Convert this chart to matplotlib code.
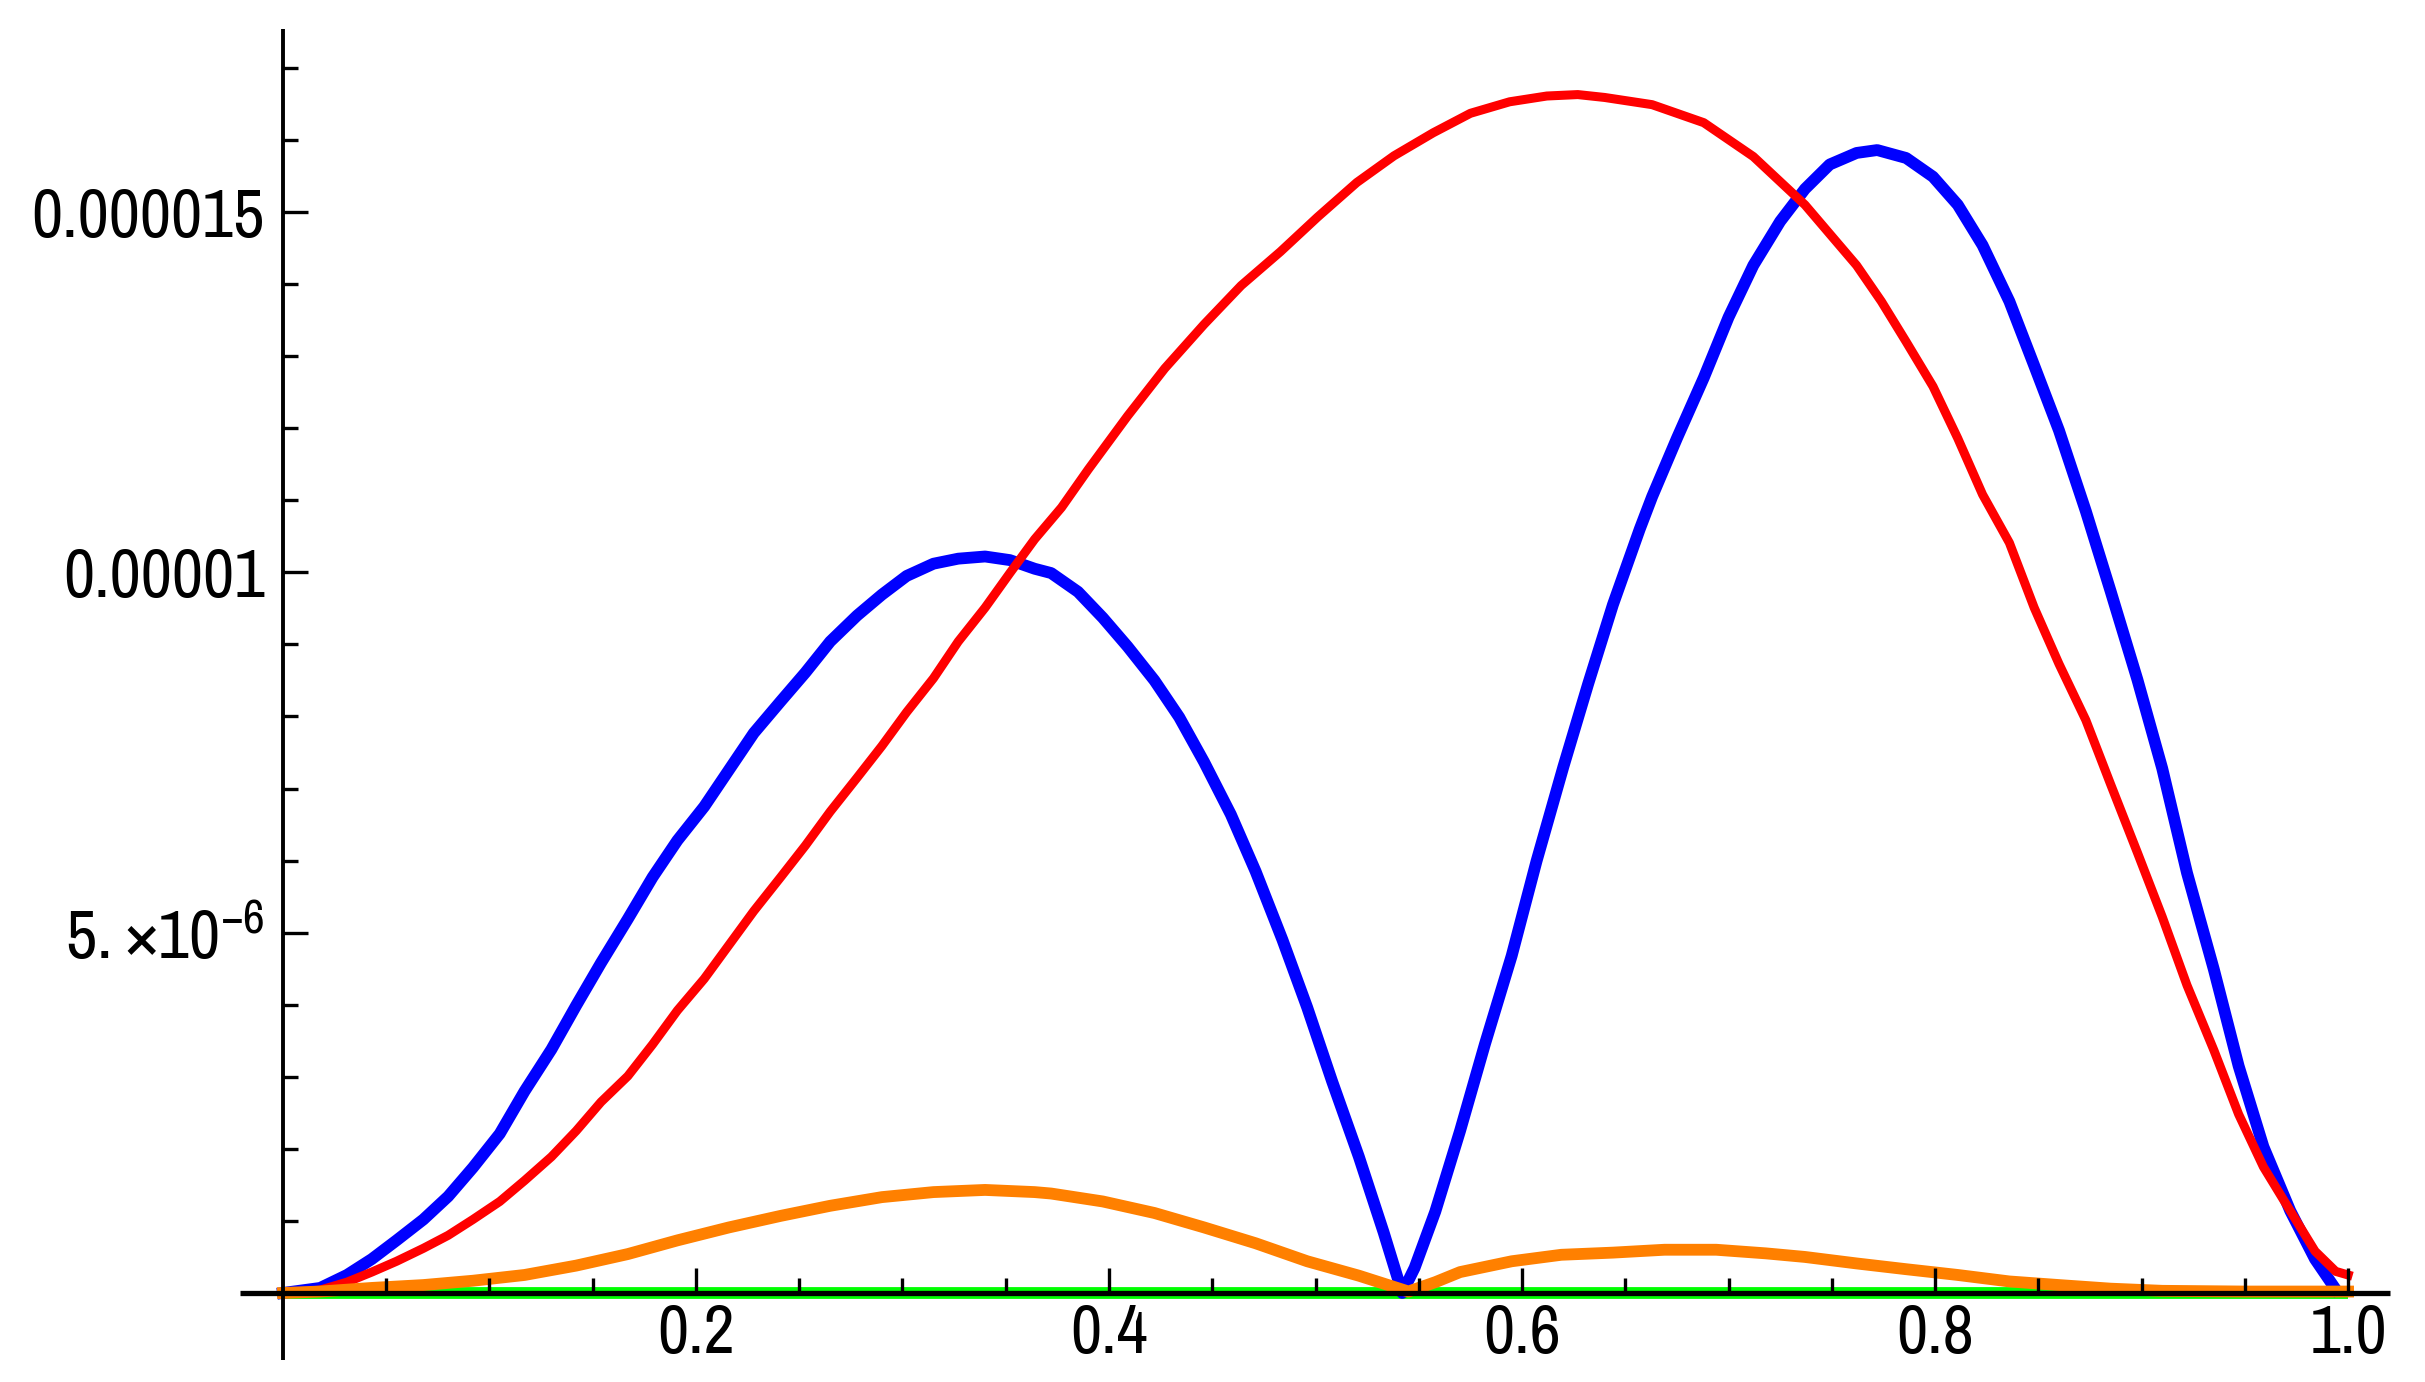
import numpy as np
import matplotlib
matplotlib.use("Agg")
import matplotlib.pyplot as plt
from matplotlib.ticker import FixedLocator, FixedFormatter

# --- values (y in units of 1e-6) ---
red_x = [0.0, 0.018, 0.031, 0.043, 0.055, 0.068, 0.080, 0.092, 0.105, 0.117,
         0.130, 0.142, 0.154, 0.167, 0.179, 0.191, 0.204, 0.216, 0.228, 0.241,
         0.253, 0.265, 0.278, 0.290, 0.302, 0.315, 0.327, 0.340, 0.352, 0.364,
         0.377, 0.390, 0.409, 0.427, 0.446, 0.464, 0.483, 0.501, 0.520, 0.538,
         0.557, 0.575, 0.594, 0.612, 0.627, 0.640, 0.663, 0.688, 0.712, 0.737,
         0.762, 0.774, 0.786, 0.799, 0.811, 0.823, 0.836, 0.848, 0.860, 0.873,
         0.885, 0.898, 0.910, 0.922, 0.935, 0.947, 0.959, 0.972, 0.984, 0.994, 1.0]
red_y = [0.0, 0.04, 0.15, 0.29, 0.44, 0.62, 0.80, 1.02, 1.27, 1.56,
         1.89, 2.25, 2.65, 3.01, 3.45, 3.92, 4.36, 4.83, 5.30, 5.77,
         6.21, 6.68, 7.15, 7.59, 8.06, 8.53, 9.04, 9.51, 9.99, 10.46,
         10.90, 11.43, 12.17, 12.83, 13.44, 13.98, 14.45, 14.93, 15.41, 15.78,
         16.10, 16.37, 16.53, 16.61, 16.63, 16.59, 16.49, 16.24, 15.77, 15.10,
         14.26, 13.76, 13.20, 12.58, 11.86, 11.08, 10.41, 9.51, 8.73, 7.95,
         7.06, 6.11, 5.22, 4.27, 3.37, 2.48, 1.75, 1.14, 0.58, 0.30, 0.25]

blue_x = [0.0, 0.018, 0.031, 0.043, 0.055, 0.068, 0.080, 0.092, 0.105, 0.117,
          0.130, 0.142, 0.154, 0.167, 0.179, 0.191, 0.204, 0.216, 0.228, 0.241,
          0.253, 0.265, 0.278, 0.290, 0.302, 0.315, 0.327, 0.340, 0.352, 0.364,
          0.372, 0.385, 0.397, 0.409, 0.422, 0.434, 0.446, 0.459, 0.471, 0.484,
          0.496, 0.508, 0.521, 0.533, 0.542, 0.548, 0.558, 0.570, 0.582, 0.595,
          0.607, 0.620, 0.632, 0.644, 0.657, 0.663, 0.675, 0.688, 0.700, 0.712,
          0.725, 0.737, 0.749, 0.762, 0.772, 0.786, 0.799, 0.811, 0.823, 0.836,
          0.848, 0.860, 0.873, 0.885, 0.898, 0.910, 0.922, 0.935, 0.947, 0.959,
          0.972, 0.984, 0.994]
blue_y = [0.0, 0.07, 0.25, 0.47, 0.73, 1.02, 1.34, 1.74, 2.21, 2.80,
          3.38, 3.99, 4.58, 5.19, 5.77, 6.28, 6.75, 7.26, 7.77, 8.21,
          8.61, 9.04, 9.40, 9.69, 9.95, 10.12, 10.19, 10.22, 10.17, 10.05,
          9.99, 9.73, 9.37, 8.97, 8.50, 7.99, 7.37, 6.64, 5.85, 4.90,
          3.96, 2.94, 1.89, 0.84, 0.0, 0.35, 1.13, 2.25, 3.45, 4.68,
          5.99, 7.30, 8.45, 9.55, 10.6, 11.05, 11.86, 12.70, 13.54, 14.26,
          14.87, 15.32, 15.66, 15.82, 15.86, 15.75, 15.49, 15.10, 14.54, 13.76,
          12.87, 11.97, 10.85, 9.74, 8.51, 7.28, 5.83, 4.49, 3.15, 2.03,
          1.14, 0.47, 0.05]

orange_x = [0.0, 0.018, 0.043, 0.068, 0.092, 0.117, 0.142, 0.167, 0.191, 0.216,
            0.241, 0.265, 0.290, 0.315, 0.340, 0.364, 0.372, 0.397, 0.422, 0.446,
            0.471, 0.496, 0.521, 0.545, 0.558, 0.570, 0.595, 0.619, 0.644, 0.669,
            0.694, 0.718, 0.737, 0.762, 0.786, 0.811, 0.836, 0.860, 0.885, 0.910,
            0.950, 1.0]
orange_y = [0.0, 0.02, 0.07, 0.11, 0.17, 0.25, 0.38, 0.54, 0.73, 0.91,
            1.07, 1.21, 1.33, 1.40, 1.43, 1.40, 1.38, 1.27, 1.11, 0.91,
            0.69, 0.44, 0.24, 0.02, 0.15, 0.29, 0.44, 0.53, 0.56, 0.60,
            0.60, 0.55, 0.50, 0.41, 0.33, 0.25, 0.16, 0.11, 0.06, 0.03,
            0.02, 0.02]

green_x = [0.0, 0.25, 0.5, 0.75, 1.0]
green_y = [0.0, 0.0, 0.0, 0.0, 0.0]

x_major = [0.2, 0.4, 0.6, 0.8, 1.0]
x_labels = ["0.2", "0.4", "0.6", "0.8", "1.0"]
x_minor = [0.05, 0.1, 0.15, 0.25, 0.3, 0.35, 0.45, 0.5, 0.55,
           0.65, 0.7, 0.75, 0.85, 0.9, 0.95]
y_major = [5e-6, 1e-5, 1.5e-5]
y_labels = [r"$\mathregular{5.{\times}10^{-6}}$", "0.00001", "0.000015"]
y_minor = [1e-6, 2e-6, 3e-6, 4e-6, 6e-6, 7e-6, 8e-6, 9e-6,
           1.1e-5, 1.2e-5, 1.3e-5, 1.4e-5, 1.6e-5, 1.7e-5]

plt.rcParams["font.family"] = ["Archivo Narrow", "Liberation Sans", "DejaVu Sans"]
plt.rcParams["mathtext.fontset"] = "custom"
plt.rcParams["mathtext.rm"] = "Archivo Narrow"

W, H = 2425, 1382
fig = plt.figure(figsize=(W / 100, H / 100), dpi=100)
ax = fig.add_axes([240 / W, (H - 1360) / H, (2390 - 240) / W, (1360 - 29) / H])

sc = 1e-6
ax.plot(green_x, np.array(green_y) * sc, color="#00ff00", lw=8.5, zorder=1.5,
        solid_capstyle="butt")
ax.plot(blue_x, np.array(blue_y) * sc, color="#0000ff", lw=8.5, zorder=1.7)
ax.plot(red_x, np.array(red_y) * sc, color="#ff0000", lw=6.5, zorder=1.8)
ax.plot(orange_x, np.array(orange_y) * sc, color="#ff8000", lw=8.5, zorder=1.9)

ax.set_xlim(-0.0208, 1.0203)
ax.set_ylim(-0.93e-6, 17.54e-6)

for s in ["top", "right"]:
    ax.spines[s].set_visible(False)
ax.spines["left"].set_position(("data", 0))
ax.spines["bottom"].set_position(("data", 0))
ax.spines["left"].set_linewidth(2.8)
ax.spines["bottom"].set_linewidth(3.8)
ax.spines["left"].set_capstyle("butt")
ax.spines["bottom"].set_capstyle("butt")
ax.set_axisbelow(False)

ax.xaxis.set_major_locator(FixedLocator(x_major))
ax.xaxis.set_major_formatter(FixedFormatter(x_labels))
ax.xaxis.set_minor_locator(FixedLocator(x_minor))
ax.yaxis.set_major_locator(FixedLocator(y_major))
ax.yaxis.set_major_formatter(FixedFormatter(y_labels))
ax.yaxis.set_minor_locator(FixedLocator(y_minor))

ax.tick_params(which="major", direction="in", length=18, width=2.4, labelsize=49)
ax.tick_params(which="minor", direction="in", length=11, width=2.4)
ax.tick_params(axis="x", which="major", pad=7)
ax.tick_params(axis="y", which="major", pad=13)

fig.savefig("out.png", dpi=100, facecolor="white")
